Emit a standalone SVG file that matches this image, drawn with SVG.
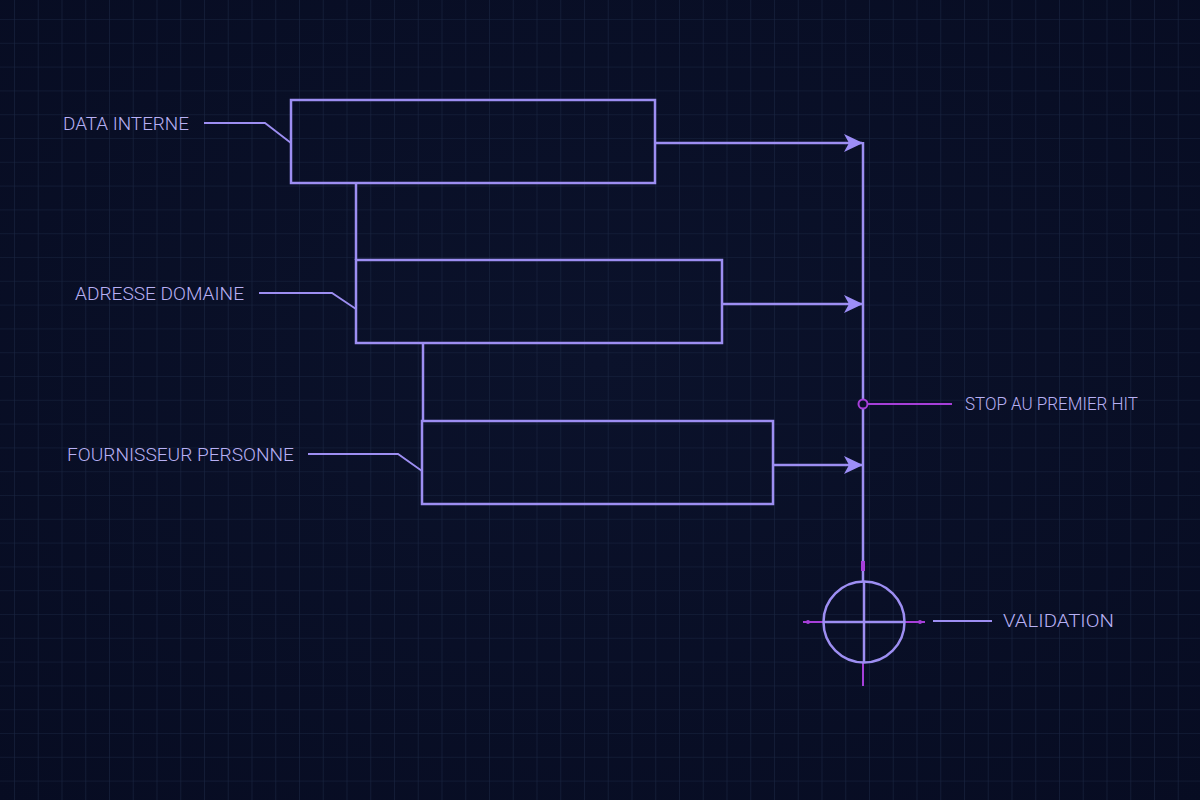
<svg xmlns="http://www.w3.org/2000/svg" width="1200" height="800" viewBox="0 0 1200 800">
  <defs>
    <pattern id="grid" x="14" y="19" width="23.75" height="23.8" patternUnits="userSpaceOnUse">
      <path d="M0 0 H23.75 M0 0 V23.8" fill="none" stroke="#1a2542" stroke-width="1.2"/>
    </pattern>
    <radialGradient id="bg" cx="50%" cy="45%" r="75%">
      <stop offset="0" stop-color="#0b122b"/>
      <stop offset="1" stop-color="#070c22"/>
    </radialGradient>
    <marker id="arr" viewBox="0 0 20 20" refX="18" refY="10" markerWidth="20" markerHeight="20" markerUnits="userSpaceOnUse" orient="auto">
      <path d="M0 1 L19 10 L0 19 L5 10 Z" fill="#9d8ef8"/>
    </marker>
  </defs>
  <style>
    .box { fill: none; stroke: #9d8ef2; stroke-width: 2.5; }
    .ln { fill: none; stroke: #9d8ef2; stroke-width: 2.5; }
    .lead { fill: none; stroke: #9d8ef2; stroke-width: 1.8; }
    .mag { fill: none; stroke: #a63fd9; stroke-width: 2; }
    .lbl { font-family: Roboto, "Liberation Sans", sans-serif; font-weight: 300; fill: #b8b0f4; font-size: 18px; }
  </style>
  <rect width="1200" height="800" fill="url(#bg)"/>
  <rect width="1200" height="800" fill="url(#grid)"/>

  <g id="connectors">
    <line class="ln" x1="356" y1="183" x2="356" y2="260"/>
    <line class="ln" x1="423" y1="343" x2="423" y2="421"/>
    <line class="ln" x1="655" y1="143" x2="862" y2="143" marker-end="url(#arr)"/>
    <line class="ln" x1="722" y1="304" x2="862" y2="304" marker-end="url(#arr)"/>
    <line class="ln" x1="773" y1="465" x2="862" y2="465" marker-end="url(#arr)"/>
    <line class="ln" x1="863" y1="142" x2="863" y2="582"/>
    <polyline class="lead" points="204,123 265,123 291,143"/>
    <polyline class="lead" points="259,293 332,293 356,309"/>
    <polyline class="lead" points="308,454 398,454 422,471"/>
  </g>

  <g id="data-interne">
    <rect class="box" x="291" y="100" width="364" height="83"/>
    <text class="lbl" x="63" y="129.5" textLength="126" lengthAdjust="spacingAndGlyphs">DATA INTERNE</text>
  </g>
  <g id="adresse-domaine">
    <rect class="box" x="356" y="260" width="366" height="83"/>
    <text class="lbl" x="75" y="300" textLength="169" lengthAdjust="spacingAndGlyphs">ADRESSE DOMAINE</text>
  </g>
  <g id="fournisseur-personne">
    <rect class="box" x="422" y="421" width="351" height="83"/>
    <text class="lbl" x="67" y="460.5" textLength="227" lengthAdjust="spacingAndGlyphs">FOURNISSEUR PERSONNE</text>
  </g>

  <g id="stop">
    <line class="mag" x1="868" y1="404" x2="952" y2="404"/>
    <circle cx="863" cy="404" r="4.5" fill="#0a1029" stroke="#a63fd9" stroke-width="2"/>
    <text class="lbl" x="965" y="410" font-size="16" textLength="173" lengthAdjust="spacingAndGlyphs">STOP AU PREMIER HIT</text>
  </g>

  <g id="validation">
    <rect x="861" y="561" width="4" height="10" fill="#a63fd9"/>
    <line class="mag" x1="863" y1="663" x2="863" y2="686"/>
    <line class="mag" x1="803" y1="622" x2="823" y2="622"/>
    <line class="mag" x1="905" y1="622" x2="925" y2="622"/>
    <circle cx="808" cy="622" r="2" fill="#a63fd9"/>
    <circle cx="920" cy="622" r="2" fill="#a63fd9"/>
    <circle cx="864" cy="622" r="40.5" class="ln"/>
    <line class="ln" x1="823" y1="622" x2="905" y2="622" stroke-width="2"/>
    <line class="ln" x1="864" y1="582" x2="864" y2="663" stroke-width="2"/>
    <line class="lead" x1="933" y1="621" x2="992" y2="621"/>
    <text class="lbl" x="1003" y="627" font-size="19.5" textLength="111" lengthAdjust="spacingAndGlyphs">VALIDATION</text>
  </g>
</svg>
